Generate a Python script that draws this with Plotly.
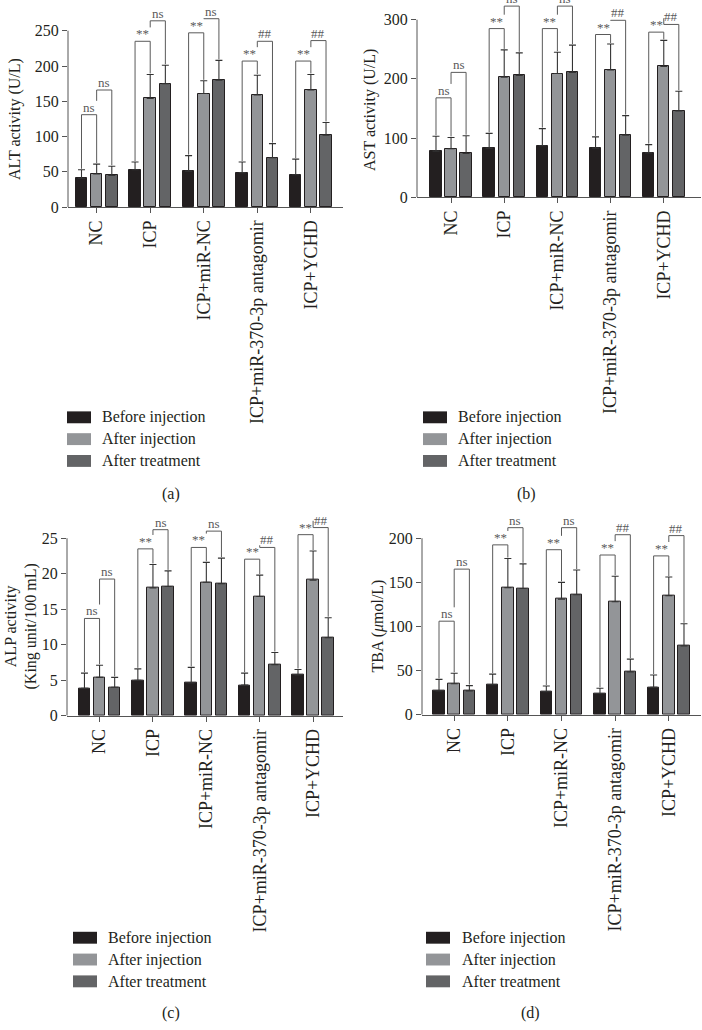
import plotly.graph_objects as go

groups = ["NC", "ICP", "ICP+miR-NC", "ICP+miR-370-3p antagomir", "ICP+YCHD"]
series_names = ["Before injection", "After injection", "After treatment"]
bar_colors = ["#231f20", "#939598", "#636466"]

# ALT (U/L)
alt_before = [41, 53, 51, 49, 46]
alt_inj = [47, 154, 161, 159, 166]
alt_trt = [45, 175, 180, 70, 102]
alt_before_err = [12, 11, 22, 15, 22]
alt_inj_err = [14, 34, 18, 28, 22]
alt_trt_err = [13, 26, 28, 20, 18]
alt_b1 = [131, 235, 247, 207, 207]
alt_b1_lab = ["ns", "**", "**", "**", "**"]
alt_b2 = [166, 264, 267, 235, 236]
alt_b2_lab = ["ns", "ns", "ns", "##", "##"]

# AST (U/L)
ast_before = [78, 83, 87, 83, 75]
ast_inj = [82, 203, 209, 215, 221]
ast_trt = [74, 206, 211, 105, 146]
ast_before_err = [25, 25, 29, 19, 14]
ast_inj_err = [19, 46, 36, 44, 44]
ast_trt_err = [30, 38, 46, 33, 33]
ast_b1 = [168, 285, 285, 275, 279]
ast_b1_lab = ["ns", "**", "**", "**", "**"]
ast_b2 = [211, 323, 323, 299, 292]
ast_b2_lab = ["ns", "ns", "ns", "##", "##"]

# ALP (King unit/100 mL)
alp_before = [3.85, 5.0, 4.6, 4.3, 5.75]
alp_inj = [5.4, 18.0, 18.8, 16.8, 19.1]
alp_trt = [4.0, 18.2, 18.6, 7.2, 11.0]
alp_before_err = [2.15, 1.6, 2.2, 1.7, 0.75]
alp_inj_err = [1.7, 3.3, 2.8, 3.0, 4.1]
alp_trt_err = [1.4, 2.2, 3.6, 1.7, 2.8]
alp_b1 = [13.7, 23.5, 23.7, 22.05, 25.5]
alp_b1_lab = ["ns", "**", "**", "**", "**"]
alp_b2 = [19.25, 26.2, 26.0, 23.7, 26.5]
alp_b2_lab = ["ns", "ns", "ns", "##", "##"]

# TBA (umol/L)
tba_before = [27, 34, 26, 24, 31]
tba_inj = [35, 144, 131, 128, 135]
tba_trt = [27, 143, 136, 48.5, 78]
tba_before_err = [13, 12, 6.5, 6, 14]
tba_inj_err = [12, 33, 19, 29, 21]
tba_trt_err = [6, 28, 28, 14.5, 25]
tba_b1 = [106, 192.5, 187, 181, 180]
tba_b1_lab = ["ns", "**", "**", "**", "**"]
tba_b2 = [165, 212, 212, 204, 203]
tba_b2_lab = ["ns", "ns", "ns", "##", "##"]

FONT = "Liberation Serif, Times New Roman, serif"
TXT = "#231f20"
AXC = "#555555"
W, H = 702, 1030


def fx(p):
    return p / W


def fy(p):
    return 1 - p / H


panels = [
    dict(means=[alt_before, alt_inj, alt_trt], errs=[alt_before_err, alt_inj_err, alt_trt_err],
         b1=alt_b1, b1lab=alt_b1_lab, b2=alt_b2, b2lab=alt_b2_lab,
         xpx=(68, 343), xr=(-0.535, 4.6), ypx=(209, 0), yr=(0, 293.5),
         ticks=[0, 50, 100, 150, 200, 250], ytitle="ALT activity (U/L)", tpos=(15, 120),
         leg=(67, 100, 421), cap=(171, 498, "(a)")),
    dict(means=[ast_before, ast_inj, ast_trt], errs=[ast_before_err, ast_inj_err, ast_trt_err],
         b1=ast_b1, b1lab=ast_b1_lab, b2=ast_b2, b2lab=ast_b2_lab,
         xpx=(417, 701), xr=(-0.64, 4.7), ypx=(199, 0), yr=(0, 333.3),
         ticks=[0, 100, 200, 300], ytitle="AST activity (U/L)", tpos=(370, 111),
         leg=(423, 456, 421), cap=(526, 498, "(b)")),
    dict(means=[alp_before, alp_inj, alp_trt], errs=[alp_before_err, alp_inj_err, alp_trt_err],
         b1=alp_b1, b1lab=alp_b1_lab, b2=alp_b2, b2lab=alp_b2_lab,
         xpx=(67, 343), xr=(-0.61, 4.56), ypx=(722, 500), yr=(0, 31.0),
         ticks=[0, 5, 10, 15, 20, 25], ytitle="ALP activity<br>(King unit/100 mL)", tpos=(21, 632),
         leg=(73, 106, 946), cap=(171, 1022, "(c)")),
    dict(means=[tba_before, tba_inj, tba_trt], errs=[tba_before_err, tba_inj_err, tba_trt_err],
         b1=tba_b1, b1lab=tba_b1_lab, b2=tba_b2, b2lab=tba_b2_lab,
         xpx=(422, 701), xr=(-0.6, 4.6), ypx=(721, 500), yr=(0, 248.3),
         ticks=[0, 50, 100, 150, 200], ytitle="TBA (<i>μ</i>mol/L)", tpos=(378, 632),
         leg=(426, 460, 946), cap=(530, 1022, "(d)")),
]

offs = [-0.283, 0.0, 0.283]
bw = 0.215

fig = go.Figure()
layout = dict(width=W, height=H, margin=dict(l=0, r=0, t=0, b=0),
              paper_bgcolor="white", plot_bgcolor="white", showlegend=False,
              font=dict(family=FONT, color=TXT, size=15), bargap=0)
shapes = []
annots = []

for k, p in enumerate(panels):
    sfx = "" if k == 0 else str(k + 1)
    xa, ya = "x" + sfx, "y" + sfx
    for s in range(3):
        fig.add_trace(go.Bar(
            x=[g + offs[s] for g in range(len(groups))], y=p["means"][s], width=bw,
            name=series_names[s], xaxis=xa, yaxis=ya,
            marker=dict(color=bar_colors[s], line=dict(color="#231f20", width=1)),
            error_y=dict(type="data", array=p["errs"][s], arrayminus=[0] * 5, symmetric=False,
                         color="#333333", thickness=1.1, width=3.5),
        ))
    layout["xaxis" + sfx] = dict(
        domain=[fx(p["xpx"][0]), fx(p["xpx"][1])], range=list(p["xr"]), anchor=ya,
        tickvals=list(range(len(groups))), ticktext=groups, tickangle=-90,
        showline=True, linecolor=AXC, linewidth=1, ticks="outside", ticklen=5,
        tickcolor=AXC, showgrid=False, zeroline=False, tickfont=dict(size=18, family=FONT, color=TXT))
    layout["yaxis" + sfx] = dict(
        domain=[fy(p["ypx"][0]), fy(p["ypx"][1])], range=list(p["yr"]), anchor=xa,
        tickvals=p["ticks"], showline=False, ticks="outside", ticklen=5, tickcolor=AXC,
        showgrid=False, zeroline=False, tickfont=dict(size=16, family=FONT, color=TXT))
    # y axis line only up to last tick
    shapes.append(dict(type="line", xref=xa + " domain", yref=ya, x0=0, x1=0,
                       y0=0, y1=p["ticks"][-1], line=dict(color=AXC, width=1)))
    unit_per_px = p["yr"][1] / (p["ypx"][0] - p["ypx"][1])
    gap = 1 * unit_per_px
    # brackets
    for g in range(len(groups)):
        for (i, j, hkey, lkey) in [(0, 1, "b1", "b1lab"), (1, 2, "b2", "b2lab")]:
            h = p[hkey][g]
            x1, x2 = g + offs[i], g + offs[j]
            ya1 = p["means"][i][g] + p["errs"][i][g] + gap
            if hkey == "b2":
                ya1 = p["b1"][g] + 14 * unit_per_px
            ya2 = p["means"][j][g] + p["errs"][j][g] + gap
            shapes.append(dict(type="path", xref=xa, yref=ya,
                               path=f"M {x1},{ya1} L {x1},{h} L {x2},{h} L {x2},{ya2}",
                               line=dict(color="#5a5a5a", width=1)))
            annots.append(dict(xref=xa, yref=ya, x=(x1 + x2) / 2, y=h, text=p[lkey][g],
                               showarrow=False, yanchor="bottom", xanchor="center", yshift=-2,
                               font=dict(size=13, color="#5a5a5a", family=FONT)))
    # y title
    annots.append(dict(xref="paper", yref="paper", x=fx(p["tpos"][0]), y=fy(p["tpos"][1]),
                       text=p["ytitle"], textangle=-90, showarrow=False,
                       xanchor="center", yanchor="middle", font=dict(size=16, family=FONT, color=TXT)))
    # manual legend
    lx, tx, ly = p["leg"]
    for s in range(3):
        yc = ly + 22 * s
        shapes.append(dict(type="rect", xref="paper", yref="paper",
                           x0=fx(lx), x1=fx(lx + 24), y0=fy(yc + 6), y1=fy(yc - 6),
                           fillcolor=bar_colors[s], line=dict(width=0)))
        annots.append(dict(xref="paper", yref="paper", x=fx(tx), y=fy(yc), text=series_names[s],
                           showarrow=False, xanchor="left", yanchor="middle",
                           font=dict(size=16, family=FONT, color=TXT)))
    cx, cy, ct = p["cap"]
    annots.append(dict(xref="paper", yref="paper", x=fx(cx), y=fy(cy), text=ct, showarrow=False,
                       xanchor="center", yanchor="middle", font=dict(size=16, family=FONT, color=TXT)))

layout["shapes"] = shapes
layout["annotations"] = annots
fig.update_layout(**layout)
fig.write_html("out.html")
